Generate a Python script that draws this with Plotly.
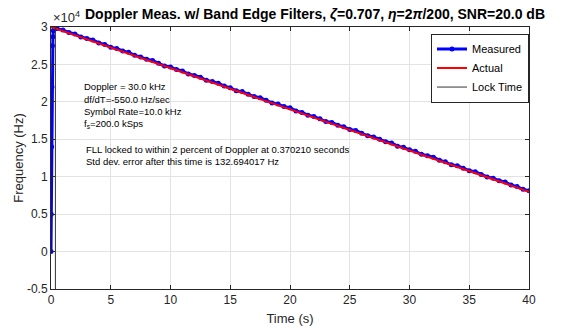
import plotly.graph_objects as go

# ---- data (Hz, seconds) ----
meas_t = [0.0, 0.02, 0.05, 0.08, 0.12, 0.16, 0.2, 0.25, 0.3, 0.37,
          0.5, 1.0, 1.5, 2.0, 2.5, 3.0, 3.5, 4.0, 4.5, 5.0,
          5.5, 6.0, 6.5, 7.0, 7.5, 8.0, 8.5, 9.0, 9.5, 10.0,
          10.5, 11.0, 11.5, 12.0, 12.5, 13.0, 13.5, 14.0, 14.5, 15.0,
          15.5, 16.0, 16.5, 17.0, 17.5, 18.0, 18.5, 19.0, 19.5, 20.0,
          20.5, 21.0, 21.5, 22.0, 22.5, 23.0, 23.5, 24.0, 24.5, 25.0,
          25.5, 26.0, 26.5, 27.0, 27.5, 28.0, 28.5, 29.0, 29.5, 30.0,
          30.5, 31.0, 31.5, 32.0, 32.5, 33.0, 33.5, 34.0, 34.5, 35.0,
          35.5, 36.0, 36.5, 37.0, 37.5, 38.0, 38.5, 39.0, 39.5, 40.0]
meas_f = [0, 5000, 14000, 22000, 27500, 28700, 29500, 29650, 29720, 29840,
          29785, 29590, 29265, 29070, 28665, 28470, 28275, 27870, 27675, 27280,
          27135, 26810, 26615, 26210, 26005, 25680, 25535, 25150, 24795, 24650,
          24315, 24130, 23725, 23520, 23285, 22890, 22705, 22500, 22105, 21890,
          21485, 21370, 21025, 20710, 20565, 20220, 19855, 19700, 19365, 19210,
          18795, 18580, 18225, 18060, 17735, 17370, 17255, 16890, 16665, 16310,
          16175, 15800, 15465, 15310, 14995, 14670, 14515, 14080, 13925, 13590,
          13395, 13000, 12805, 12610, 12205, 11990, 11595, 11460, 11135, 10810,
          10655, 10300, 9965, 9800, 9465, 9290, 8895, 8680, 8325, 8120]

actual_t = [0.0, 40.0]
actual_f = [30000, 8000]

lock_t = [0.37021, 0.37021]
lock_f = [-5000, 30000]

x_ticks = [0, 5, 10, 15, 20, 25, 30, 35, 40]
y_tickvals = [-5000, 0, 5000, 10000, 15000, 20000, 25000, 30000]
y_ticktext = ['-0.5', '0', '0.5', '1', '1.5', '2', '2.5', '3']

info_lines = ['Doppler = 30.0 kHz', 'df/dT=-550.0 Hz/sec',
              'Symbol Rate=10.0 kHz', 'f<sub>s</sub>=200.0 kSps']
info_y = [22000, 20350, 18700, 17100]
lock_lines = ['FLL locked to within 2 percent of Doppler at 0.370210 seconds',
              'Std dev. error after this time is 132.694017 Hz']
lock_y = [13600, 12000]

FONT = 'Liberation Sans, Arial, Helvetica, sans-serif'
AX = '#262626'

fig = go.Figure()
fig.add_trace(go.Scatter(x=meas_t, y=meas_f, mode='lines+markers', name='Measured',
                         line=dict(color='#0000ff', width=3),
                         marker=dict(color='#0000ff', size=5)))
fig.add_trace(go.Scatter(x=actual_t, y=actual_f, mode='lines', name='Actual',
                         line=dict(color='#ff0000', width=2)))
fig.add_trace(go.Scatter(x=lock_t, y=lock_f, mode='lines', name='Lock Time',
                         line=dict(color='#333333', width=1)))

axis_common = dict(showline=True, linecolor=AX, linewidth=1, mirror='ticks',
                   ticks='inside', ticklen=4, tickcolor=AX, automargin=False,
                   showgrid=True, gridcolor='#e3e3e3', gridwidth=1,
                   zeroline=False, tickfont=dict(family=FONT, size=12, color=AX))

fig.update_xaxes(range=[0, 40], tickvals=x_ticks,
                 title=dict(text='Time (s)', font=dict(family=FONT, size=13, color=AX), standoff=7),
                 **axis_common)
fig.update_yaxes(range=[-5000, 30000], tickvals=y_tickvals, ticktext=y_ticktext,
                 title=dict(text='Frequency (Hz)', font=dict(family=FONT, size=13, color=AX), standoff=0),
                 **axis_common)

annotations = []
# title
annotations.append(dict(xref='paper', yref='paper', x=0.552, y=1.0, yshift=13,
                        xanchor='center', yanchor='middle', showarrow=False,
                        text='<b>Doppler Meas. w/ Band Edge Filters, <i>ζ</i>=0.707, <i>η</i>=2<i>π</i>/200, SNR=20.0 dB</b>',
                        font=dict(family=FONT, size=14, color='#000000')))
# exponent
annotations.append(dict(xref='paper', yref='paper', x=0.0, y=1.0, yshift=0,
                        xanchor='left', yanchor='bottom', showarrow=False,
                        text='×10<sup>4</sup>', font=dict(family=FONT, size=13, color=AX)))
for txt, yv in zip(info_lines, info_y):
    annotations.append(dict(x=2.6, y=yv, xanchor='left', yanchor='middle', showarrow=False,
                            text=txt, font=dict(family=FONT, size=9.5, color='#000000')))
for txt, yv in zip(lock_lines, lock_y):
    annotations.append(dict(x=2.8, y=yv, xanchor='left', yanchor='middle', showarrow=False,
                            text=txt, font=dict(family=FONT, size=9.5, color='#000000')))

fig.update_layout(
    width=562, height=331,
    margin=dict(l=51, r=33, t=27, b=42),
    paper_bgcolor='#ffffff', plot_bgcolor='#ffffff',
    font=dict(family=FONT, color=AX),
    annotations=annotations,
    legend=dict(x=1.0, y=0.975, xanchor='right', yanchor='top',
                bgcolor='#ffffff', bordercolor=AX, borderwidth=1,
                font=dict(family=FONT, size=11, color='#000000'),
                tracegroupgap=0, itemwidth=30),
    showlegend=True,
)

fig.write_html('out.html', config={'displayModeBar': False},
               post_script="document.body.style.margin='0px';")
